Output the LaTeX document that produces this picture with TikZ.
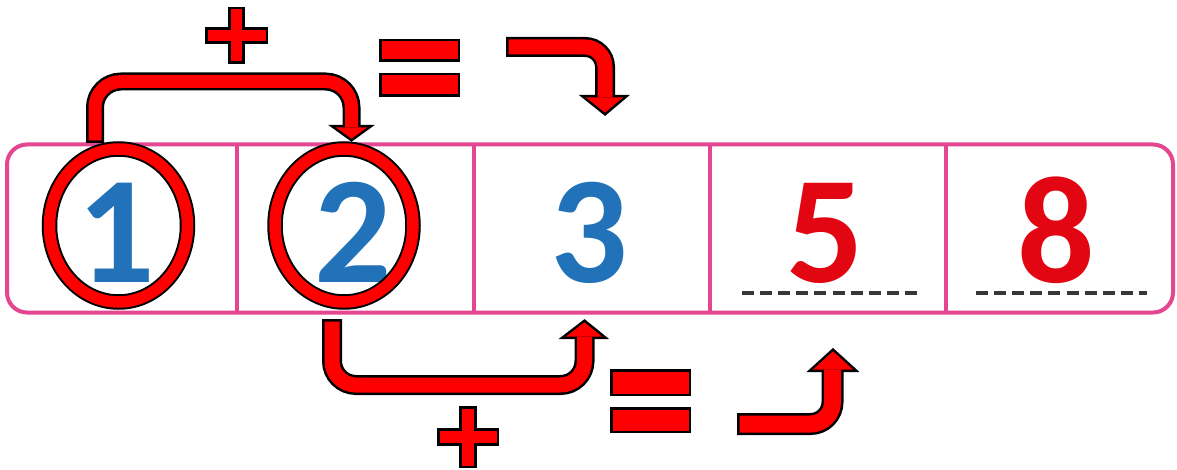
\documentclass[tikz,border=0pt]{standalone}
\usepackage{fontspec}
\setmainfont{Carlito}
\usetikzlibrary{shapes.geometric}
\definecolor{pinkline}{RGB}{228,70,143}
\definecolor{digblue}{RGB}{34,114,185}
\definecolor{digred}{RGB}{226,6,19}
\definecolor{arrred}{RGB}{255,0,0}
\definecolor{dashgray}{RGB}{55,55,55}
% #1 outer width, #2 red width, #3 radius, #4 band path, #5 head triangle
\newcommand\fatarrow[5]{%
  \draw[headblack] #5 -- cycle;
  \draw[draw=black, line width=#1pt, rounded corners=#3pt, shorten <=-2.5pt] #4;
  \draw[draw=arrred, line width=#2pt, rounded corners=#3pt] #4;
  \fill[arrred] #5 -- cycle;
}
% #1 cx, #2 cy, #3 half length x, #4 half length y, #5 half thickness
\newcommand\plussign[5]{%
  \draw[symb] (#1-#5,#2-#4) -- (#1+#5,#2-#4) -- (#1+#5,#2-#5) -- (#1+#3,#2-#5)
    -- (#1+#3,#2+#5) -- (#1+#5,#2+#5) -- (#1+#5,#2+#4) -- (#1-#5,#2+#4)
    -- (#1-#5,#2+#5) -- (#1-#3,#2+#5) -- (#1-#3,#2-#5) -- (#1-#5,#2-#5) -- cycle;
}
\begin{document}
\begin{tikzpicture}[x=1pt,y=-1pt,
  headblack/.style={draw=black, line width=5pt, line join=miter},
  symb/.style={draw=black, fill=arrred, line width=2.5pt, line join=miter},
  digit/.style={font=\fontsize{153}{153}\selectfont\bfseries, anchor=base, inner sep=0pt},
  ring/.style={ellipse, draw=black, double=arrred, double distance=11.5pt, line width=2pt,
    minimum width=138pt, minimum height=153pt, inner sep=0pt},
  divider/.style={draw=pinkline, line width=4pt},
  answerline/.style={draw=dashgray, line width=4.5pt, dash pattern=on 12pt off 6.1pt}]
\fill[white] (0,0) rectangle (1177,470);
\useasboundingbox (0,0) rectangle (1177,470);

% strip of cells
\node[draw=pinkline, line width=4pt, rounded corners=20pt, minimum width=1166pt,
  minimum height=168pt, inner sep=0pt] (strip) at (590,228.5) {};
\draw[divider] (237,144.5) -- (237,312.5);
\draw[divider] (473.5,144.5) -- (473.5,312.5);
\draw[divider] (709.5,144.5) -- (709.5,312.5);
\draw[divider] (945.5,144.5) -- (945.5,312.5);

% digits
\node[digit, text=digblue] (d1) at (116.5,282) {1};
\node[digit, text=digblue] (d2) at (353,282) {2};
\node[digit, text=digblue] (d3) at (589,282) {3};
\node[digit, text=digred] (d5) at (825.5,282) {5};
\node[digit, text=digred] (d8) at (1056,282) {8};

% answer lines
\draw[answerline] (742,293) -- (917,293);
\draw[answerline] (976,293) -- (1147,293);

% rings
\node[ring] (e1) at (118.5,225.5) {};
\node[ring] (e2) at (344,225.5) {};

% arrows
\fatarrow{18}{13}{26}{(95,140.5) -- (95,81.5) -- (351.5,81.5) -- (351.5,127.5)}
  {(336,127.5) -- (367,127.5) -- (351.5,138.7)}
\fatarrow{20}{15}{20}{(508.5,47) -- (605,47) -- (605,97.5)}
  {(586,97.5) -- (623,97.5) -- (605,112.7)}
\fatarrow{20}{15}{24}{(332,321.5) -- (332,385) -- (584.5,385) -- (584.5,336.5)}
  {(566,336.5) -- (602,336.5) -- (584.5,322.3)}
\fatarrow{22}{17}{22}{(739.5,424) -- (832.5,424) -- (832.5,369.5)}
  {(813,369.5) -- (853,369.5) -- (833,351.3)}

% plus and equals signs
\plussign{236.5}{35.5}{30.25}{27.25}{7}
\plussign{468}{437}{29.75}{29.75}{7.5}
\draw[symb] (380.25,40.25) rectangle (458.75,60.75);
\draw[symb] (380.25,74.25) rectangle (458.75,95.75);
\draw[symb] (611.25,370.25) rectangle (689.75,394.75);
\draw[symb] (611.25,408.25) rectangle (689.75,431.75);
\end{tikzpicture}
\end{document}
